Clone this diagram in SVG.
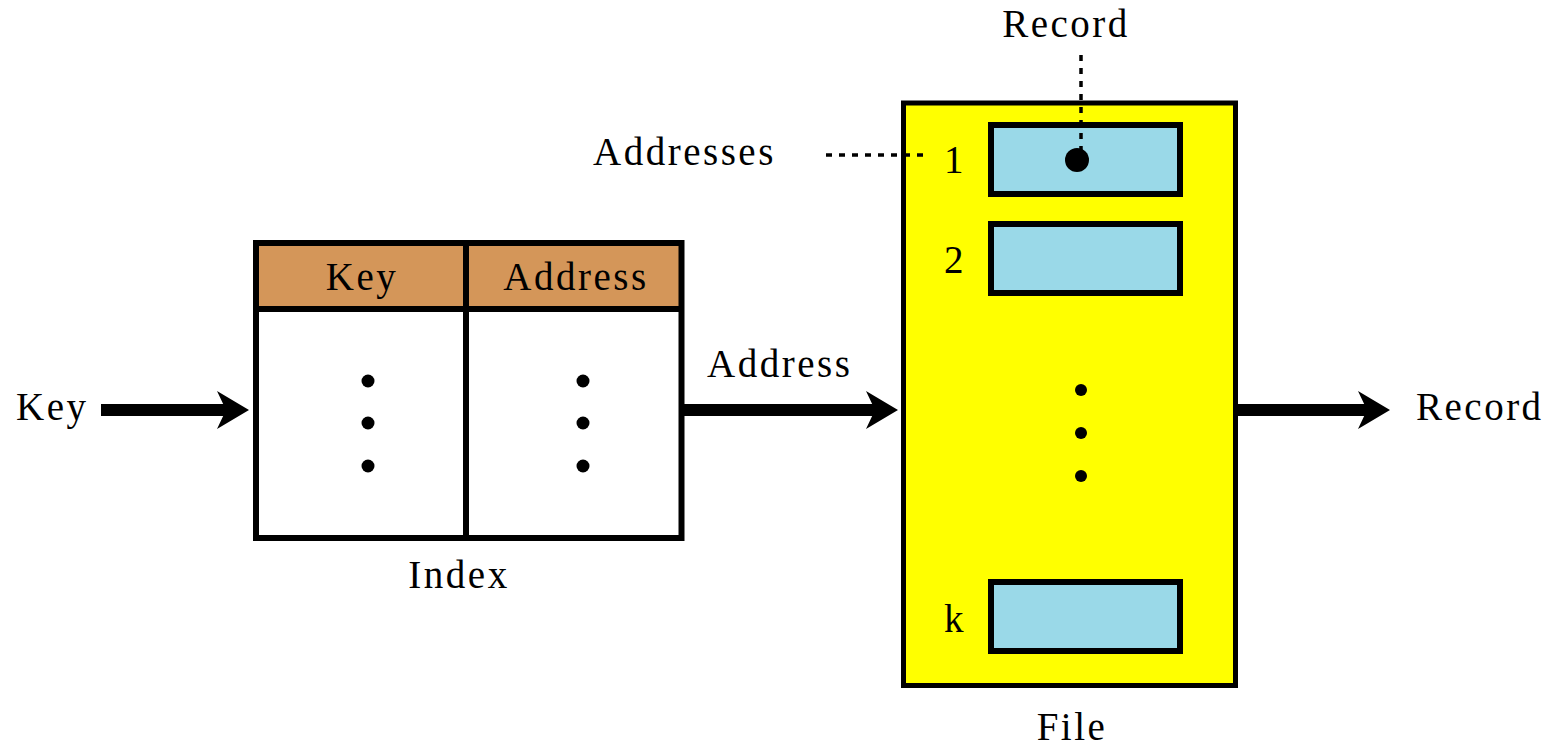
<svg xmlns="http://www.w3.org/2000/svg" width="1550" height="746" viewBox="0 0 1550 746">
  <style>
    .lbl { font-family: "Liberation Serif", "Times New Roman", serif; font-size: 39px; letter-spacing: 2.5px; fill: #000; }
    .mid { text-anchor: middle; }
    .box { stroke: #000; stroke-width: 6; }
    .rec { fill: #9ad9e8; stroke: #000; stroke-width: 6; }
    .dot { fill: #000; }
    .shaft { stroke: #000; stroke-width: 12; fill: none; marker-end: url(#head); }
    .dash { stroke: #000; stroke-width: 3.5; stroke-dasharray: 6 7; fill: none; }
  </style>
  <defs>
    <marker id="head" viewBox="0 0 32 38" refX="9" refY="19" markerWidth="32" markerHeight="38" markerUnits="userSpaceOnUse" orient="auto">
      <path d="M0,0 L32,19 L0,38 L9,19 Z" fill="#000"/>
    </marker>
  </defs>

  <rect width="1550" height="746" fill="#fff"/>

  <!-- index table -->
  <g id="index">
    <rect x="256" y="243" width="425.5" height="66" fill="#d49659"/>
    <rect x="256" y="309" width="425.5" height="229" fill="#fff"/>
    <rect x="256" y="243" width="425.5" height="295" fill="none" class="box"/>
    <line x1="256" y1="309" x2="681.5" y2="309" class="box"/>
    <line x1="466" y1="243" x2="466" y2="538" class="box"/>
    <text x="362" y="290" class="lbl mid">Key</text>
    <text x="576" y="290" class="lbl mid">Address</text>
    <circle cx="368" cy="381" r="6.5" class="dot"/>
    <circle cx="368" cy="423" r="6.5" class="dot"/>
    <circle cx="368" cy="466" r="6.5" class="dot"/>
    <circle cx="583" cy="381" r="6.5" class="dot"/>
    <circle cx="583" cy="423" r="6.5" class="dot"/>
    <circle cx="583" cy="466" r="6.5" class="dot"/>
    <text x="459" y="588" class="lbl mid">Index</text>
  </g>

  <!-- file of records -->
  <g id="file">
    <rect x="903.5" y="103" width="332" height="582.5" fill="#ffff00" stroke="#000" stroke-width="5"/>
    <rect x="991" y="125" width="189" height="69" class="rec"/>
    <rect x="991" y="224" width="189" height="69" class="rec"/>
    <rect x="991" y="582" width="189" height="69" class="rec"/>
    <text x="955" y="173" class="lbl mid">1</text>
    <text x="955" y="273" class="lbl mid">2</text>
    <text x="955" y="632" class="lbl mid">k</text>
    <circle cx="1081" cy="390" r="6" class="dot"/>
    <circle cx="1081" cy="433" r="6" class="dot"/>
    <circle cx="1081" cy="476" r="6" class="dot"/>
    <text x="1072" y="740" class="lbl mid">File</text>
  </g>

  <!-- record pointer and address callout -->
  <g id="record-callout">
    <circle cx="1077" cy="160" r="12" class="dot"/>
    <text x="1066" y="37" class="lbl mid">Record</text>
  </g>
  <g id="addresses-callout">
    <text x="593" y="165" class="lbl">Addresses</text>
  </g>

  <!-- plain labels -->
  <g id="key-in">
    <text x="16" y="420" class="lbl">Key</text>
  </g>
  <g id="record-out">
    <text x="1416" y="420" class="lbl">Record</text>
  </g>
  <g id="address-label">
    <text x="707" y="377" class="lbl">Address</text>
  </g>

  <!-- connectors -->
  <g id="connectors">
    <line x1="101" y1="410" x2="226" y2="410" class="shaft"/>
    <line x1="684" y1="410" x2="875" y2="410" class="shaft"/>
    <line x1="1238" y1="410" x2="1367" y2="410" class="shaft"/>
    <line x1="1081" y1="55" x2="1081" y2="150" class="dash"/>
    <line x1="826" y1="155" x2="923" y2="155" class="dash"/>
  </g>
</svg>
